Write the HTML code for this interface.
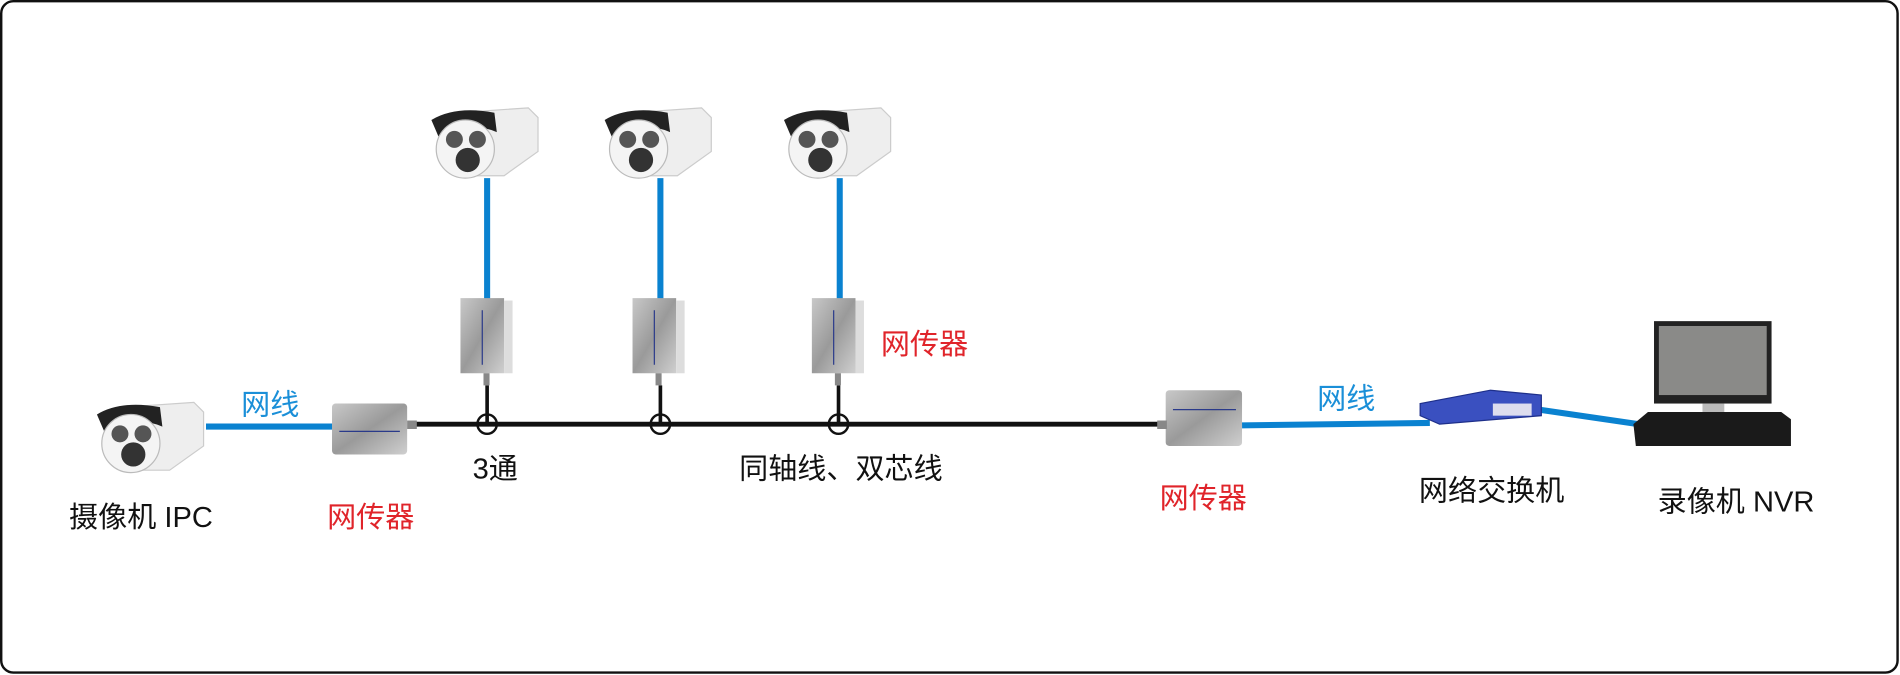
<!DOCTYPE html>
<html><head><meta charset="utf-8"><style>
html,body{margin:0;padding:0;background:#fff;width:1900px;height:675px;overflow:hidden}
svg text{font-family:"Liberation Sans","Noto Sans CJK SC",sans-serif;font-size:24px}
</style></head><body>
<svg width="1900" height="675" viewBox="0 0 1568 557" preserveAspectRatio="none" xmlns="http://www.w3.org/2000/svg">
<defs>
<g id="cam">
  <path d="M22 6 L80 2 L88 10 L88 38 L60 58 L30 58 Z" fill="#eeeeee" stroke="#ccc"/>
  <path d="M0 12 Q20 0 52 6 L54 22 Q30 12 6 26 Z" fill="#222"/>
  <circle cx="28" cy="36" r="24" fill="#f4f4f4" stroke="#bbb"/>
  <circle cx="19" cy="28" r="7" fill="#555"/>
  <circle cx="38" cy="28" r="7" fill="#555"/>
  <circle cx="30" cy="45" r="10" fill="#333"/>
</g>
<linearGradient id="met" x1="0" y1="0" x2="1" y2="1"><stop offset="0" stop-color="#c8c8c8"/><stop offset="0.5" stop-color="#9a9a9a"/><stop offset="1" stop-color="#cfcfcf"/></linearGradient>
<g id="vbox">
  <rect x="0" y="0" width="36" height="62" fill="url(#met)"/>
  <rect x="36" y="2" width="7" height="60" fill="#ddd"/>
  <line x1="18" y1="10" x2="18" y2="55" stroke="#2a3a8a" stroke-width="1"/>
  <rect x="19" y="62" width="5" height="10" fill="#888"/>
</g>
</defs>
<rect x="1" y="1" width="1565" height="554" rx="10" fill="#fff" stroke="#111" stroke-width="2"/>

<line x1="338" y1="350" x2="962" y2="350" stroke="#111" stroke-width="4"/>
<g stroke="#111" stroke-width="3" fill="none">
<line x1="402" y1="318" x2="402" y2="350"/><circle cx="402" cy="350" r="8" stroke-width="2"/>
<line x1="545" y1="318" x2="545" y2="350"/><circle cx="545" cy="350" r="8" stroke-width="2"/>
<line x1="692" y1="318" x2="692" y2="350"/><circle cx="692" cy="350" r="8" stroke-width="2"/>
</g>
<g stroke="#0a82d0" stroke-width="5">
<line x1="402" y1="147" x2="402" y2="248"/>
<line x1="545" y1="147" x2="545" y2="248"/>
<line x1="693" y1="147" x2="693" y2="248"/>
<line x1="170" y1="352" x2="276" y2="352"/>
<line x1="1025" y1="351" x2="1180" y2="349"/>
<line x1="1270" y1="338" x2="1352" y2="350"/>
</g>

<use href="#cam" x="356" y="87"/>
<use href="#cam" x="499" y="87"/>
<use href="#cam" x="647" y="87"/>
<use href="#cam" x="80" y="330"/>

<use href="#vbox" x="380" y="246"/>
<use href="#vbox" x="522" y="246"/>
<use href="#vbox" x="670" y="246"/>

<rect x="274" y="333" width="62" height="42" rx="3" fill="url(#met)"/>
<rect x="336" y="347" width="8" height="7" fill="#888"/>
<line x1="280" y1="356" x2="330" y2="356" stroke="#2a3a8a"/>
<rect x="962" y="322" width="63" height="46" rx="3" fill="url(#met)"/>
<rect x="955" y="347" width="8" height="7" fill="#888"/>
<line x1="968" y1="338" x2="1020" y2="338" stroke="#2a3a8a"/>

<path d="M1172 333 L1230 322 L1272 326 L1272 343 L1188 350 L1172 343 Z" fill="#3a50c0" stroke="#1e2f8a"/>
<rect x="1232" y="333" width="32" height="10" fill="#dde"/>

<rect x="1365" y="265" width="97" height="68" fill="#222"/>
<rect x="1369" y="269" width="89" height="57" fill="#8a8a88"/>
<rect x="1405" y="333" width="18" height="8" fill="#bbb"/>
<path d="M1360 340 L1470 340 L1478 346 L1478 368 L1350 368 L1348 350 Z" fill="#1a1a1a"/>

<text x="199" y="342" fill="#1a8fd8">网线</text>
<text x="1087" y="337" fill="#1a8fd8">网线</text>
<text x="57" y="435" fill="#111">摄像机 IPC</text>
<text x="270" y="435" fill="#e0242a">网传器</text>
<text x="727" y="292" fill="#e0242a">网传器</text>
<text x="957" y="419" fill="#e0242a">网传器</text>
<text x="390" y="395" fill="#111">3通</text>
<text x="610" y="395" fill="#111">同轴线、双芯线</text>
<text x="1171" y="413" fill="#111">网络交换机</text>
<text x="1368" y="422" fill="#111">录像机 NVR</text>
</svg>
</body></html>
